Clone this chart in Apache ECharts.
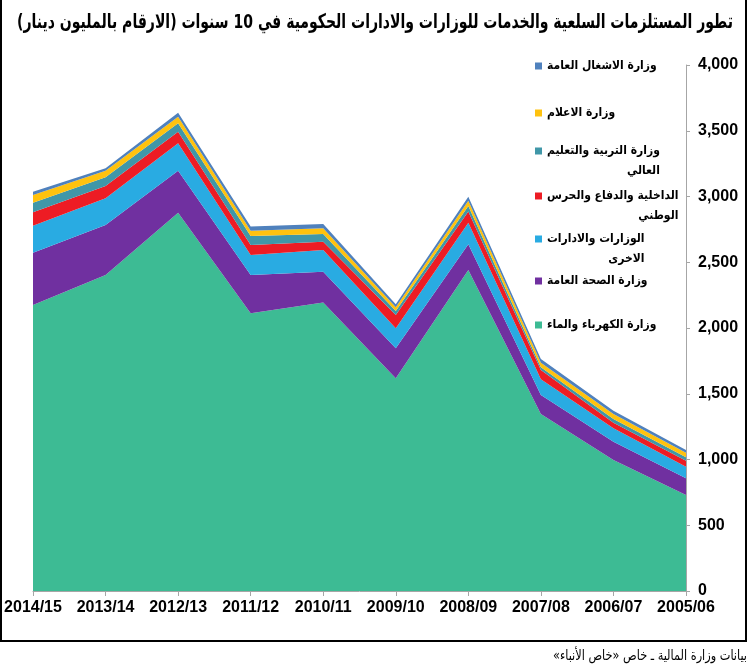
<!DOCTYPE html>
<html><head><meta charset="utf-8">
<script src="https://cdn.jsdelivr.net/npm/echarts@6/dist/echarts.min.js"></script>
<style>html,body{margin:0;padding:0;background:#fff}#c{width:750px;height:672px}</style>
</head><body><div id="c" dir="rtl"></div>
<script>
// Categories as displayed left to right
const categories = ['2014/15','2013/14','2012/13','2011/12','2010/11','2009/10','2008/09','2007/08','2006/07','2005/06'];
// Values in million KD
const electricity     = [2175, 2403, 2877, 2112, 2193, 1617, 2441, 1346, 996, 730];
const health          = [398, 380, 319, 291, 235, 229, 196, 145, 139, 127];
const otherMinistries = [205, 203, 209, 152, 165, 152, 164, 119, 102, 88];
const interiorDefence = [102, 94, 88, 76, 63, 101, 84, 71, 43, 46];
const education       = [73, 66, 64, 69, 59, 30, 43, 20, 28, 26];
const information     = [59, 50, 50, 40, 43, 28, 40, 35, 38, 35];
const publicWorks     = [25, 19, 30, 31, 33, 23, 31, 28, 25, 20];
const yMin = 0, yMax = 4000, yStep = 500;

const seriesNames = [
  'وزارة الكهرباء والماء',
  'وزارة الصحة العامة',
  'الوزارات والادارات الاخرى',
  'الداخلية والدفاع والحرس الوطني',
  'وزارة التربية والتعليم العالي',
  'وزارة الاعلام',
  'وزارة الاشغال العامة'
];
const legendLines = [
  ['وزارة الكهرباء والماء'],
  ['وزارة الصحة العامة'],
  ['الوزارات والادارات', 'الاخرى'],
  ['الداخلية والدفاع والحرس', 'الوطني'],
  ['وزارة التربية والتعليم', 'العالي'],
  ['وزارة الاعلام'],
  ['وزارة الاشغال العامة']
];
const seriesData = [electricity, health, otherMinistries, interiorDefence, education, information, publicWorks];
const colors = ['#3dbb94', '#7030a0', '#29abe2', '#ed1c24', '#4097a8', '#ffc20e', '#4f81bd'];
const titleText = 'تطور المستلزمات السلعية والخدمات للوزارات والادارات الحكومية في 10 سنوات (الارقام بالمليون دينار)';
const sourceText = 'بيانات وزارة المالية ـ خاص «خاص الأنباء»';

const legendCenters = [324, 280, 238, 195, 150, 112, 65];
const arFont = '"DejaVu Sans Condensed", "DejaVu Sans", sans-serif';
const numFont = '"Liberation Sans", Arial, sans-serif';

function fitScale(text, font, target) {
  const ctx = document.createElement('canvas').getContext('2d');
  ctx.font = font;
  return target / ctx.measureText(text).width;
}
const titleFont = 'bold 20px "DejaVu Sans Condensed", "DejaVu Sans", sans-serif';
const titleScale = fitScale(titleText, titleFont, 716);
const srcFont = '14px "DejaVu Sans Condensed", "DejaVu Sans", sans-serif';
const srcScale = fitScale(sourceText, srcFont, 194);

const chart = echarts.init(document.getElementById('c'));

const series = seriesNames.map((n, i) => ({
  name: n,
  type: 'line',
  stack: 'total',
  data: seriesData[i],
  showSymbol: false,
  symbol: 'none',
  color: colors[i],
  lineStyle: { width: 0 },
  areaStyle: { color: colors[i], opacity: 1 },
  itemStyle: { color: colors[i] },
  emphasis: { disabled: true },
  animation: false,
  z: 2
}));

const legends = seriesNames.map((n, i) => {
  const two = legendLines[i].length > 1;
  return {
    left: 530,
    top: legendCenters[i] - 10,
    orient: 'vertical',
    selectedMode: false,
    itemWidth: 7,
    itemHeight: two ? 27 : 7,
    itemGap: 0,
    data: [{ name: n, icon: two ? 'path://M0,0L7,0L7,7L0,7ZM0,27' : 'rect' }],
    formatter: function (name) {
      const k = seriesNames.indexOf(name);
      return legendLines[k].map(s => '{r|' + s + '}').join('\n');
    },
    textStyle: {
      rich: {
        r: { align: 'right', fontSize: 12, fontWeight: 'bold', fontFamily: arFont, color: '#000', lineHeight: 20 }
      }
    }
  };
});

chart.setOption({
  backgroundColor: '#fff',
  animation: false,
  legend: legends,
  grid: { left: 33, right: 64, top: 65, bottom: 81, containLabel: false },
  xAxis: {
    type: 'category',
    data: categories,
    boundaryGap: false,
    axisLine: { lineStyle: { color: '#a6a6a6', width: 1 } },
    axisTick: { show: true, alignWithLabel: true, length: 5, lineStyle: { color: '#a6a6a6' } },
    axisLabel: { color: '#000', fontSize: 16, fontWeight: 'bold', fontFamily: numFont, margin: 9, interval: 0 },
    splitLine: { show: false }
  },
  yAxis: {
    type: 'value',
    position: 'right',
    min: yMin, max: yMax, interval: yStep,
    axisLine: { show: true, lineStyle: { color: '#a6a6a6', width: 1 } },
    axisTick: { show: true, inside: false, length: 4, lineStyle: { color: '#a6a6a6' } },
    axisLabel: { color: '#000', fontSize: 16, fontWeight: 'bold', fontFamily: numFont, margin: 12,
      formatter: v => v.toLocaleString('en-US') },
    splitLine: { show: false }
  },
  graphic: [
    { type: 'text', x: 375, y: 23, scaleX: titleScale, silent: true, z: 100,
      style: { text: titleText, font: titleFont, fill: '#000', align: 'center', verticalAlign: 'middle' } },
    { type: 'text', x: 747, y: 656, scaleX: srcScale, silent: true, z: 100,
      style: { text: sourceText, font: srcFont, fill: '#000', align: 'right', verticalAlign: 'middle' } },
    { type: 'rect', shape: { x: 1, y: -5, width: 745, height: 646 },
      style: { fill: 'none', stroke: '#000', lineWidth: 2 }, silent: true, z: 100 }
  ],
  series: series
});
</script></body></html>
